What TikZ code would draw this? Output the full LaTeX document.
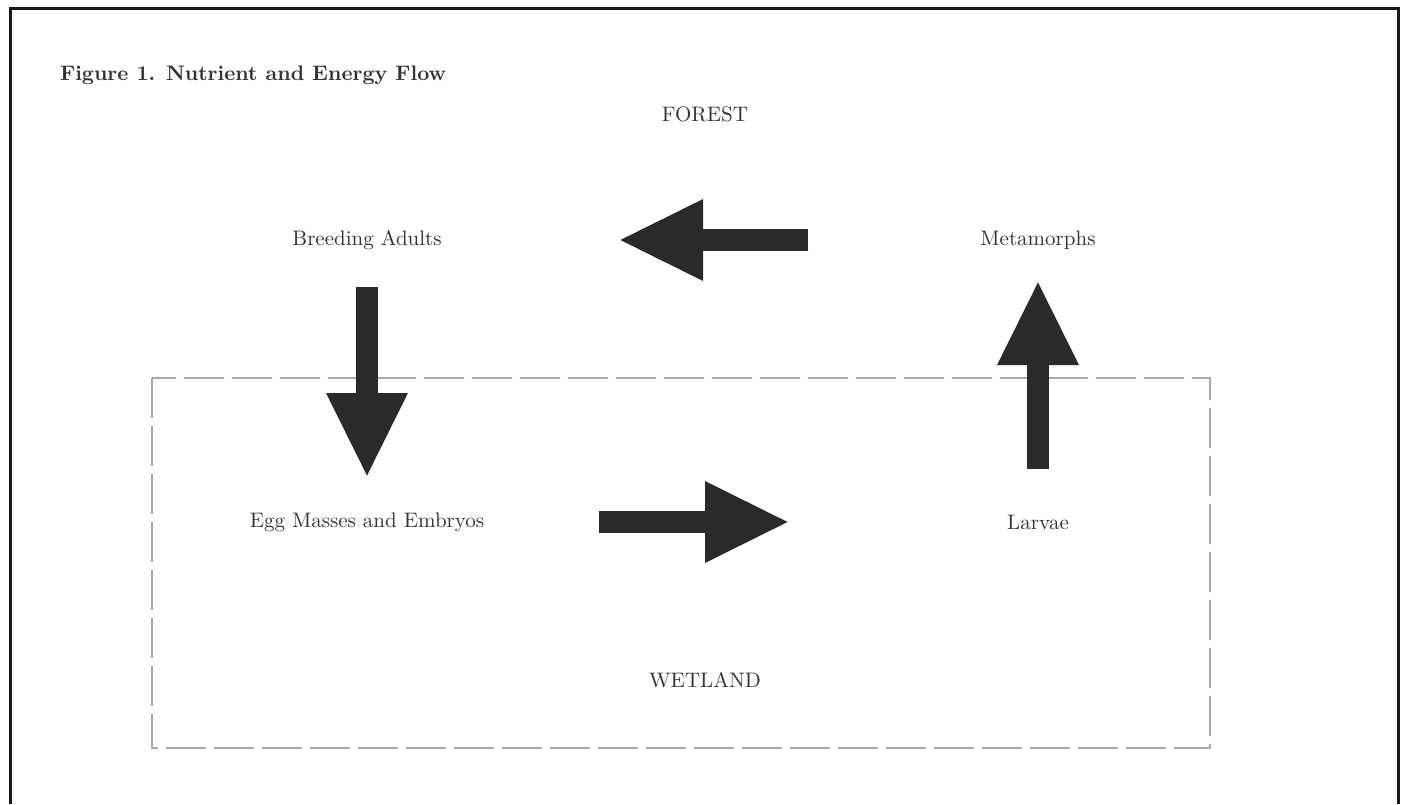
\documentclass[tikz,border=0pt]{standalone}
\usepackage{tikz}
\usetikzlibrary{arrows.meta}

\definecolor{inkgray}{HTML}{333333}
\definecolor{arrowgray}{HTML}{2A2A2A}
\definecolor{dashgray}{HTML}{A8A8A8}

\begin{document}
\begin{tikzpicture}[x=0.5pt,y=-0.5pt,
    label/.style={text=inkgray,font=\fontsize{10.5}{12}\selectfont,inner sep=1pt},
    flow/.style={draw=arrowgray,line width=11pt,-{Triangle[length=42.5pt,width=37.5pt]}}]
    \useasboundingbox (0,0) rectangle (1403,804);
    \draw[line width=1.5pt,black!90] (10,804) -- (10,8) -- (1398,8) -- (1398,804);
    \node[anchor=west,text=inkgray,font=\fontsize{10.5}{12}\selectfont\bfseries] (title) at (53,75) {Figure 1. Nutrient and Energy Flow};
    \draw[dashgray,line width=1pt,dash pattern=on 20pt off 4pt] (152,378) rectangle (1210,748);
    \node[label] (forest) at (705,114) {FOREST};
    \node[label] (wetland) at (705,680) {WETLAND};
    \node[label] (adults) at (367,240) {Breeding Adults};
    \node[label] (metamorphs) at (1038,240) {Metamorphs};
    \node[label] (eggs) at (367,522) {Egg Masses and Embryos};
    \node[label] (larvae) at (1038,522) {Larvae};
    \draw[flow,shorten <=23.5pt,shorten >=22pt] (adults.center) -- (eggs.center);
    \draw[flow,shorten <=116pt,shorten >=124pt] (eggs.center) -- (larvae.center);
    \draw[flow,shorten <=26.5pt,shorten >=20pt] (larvae.center) -- (metamorphs.center);
    \draw[flow,shorten <=115pt,shorten >=125.5pt] (metamorphs.center) -- (adults.center);
  \end{tikzpicture}
\end{document}
